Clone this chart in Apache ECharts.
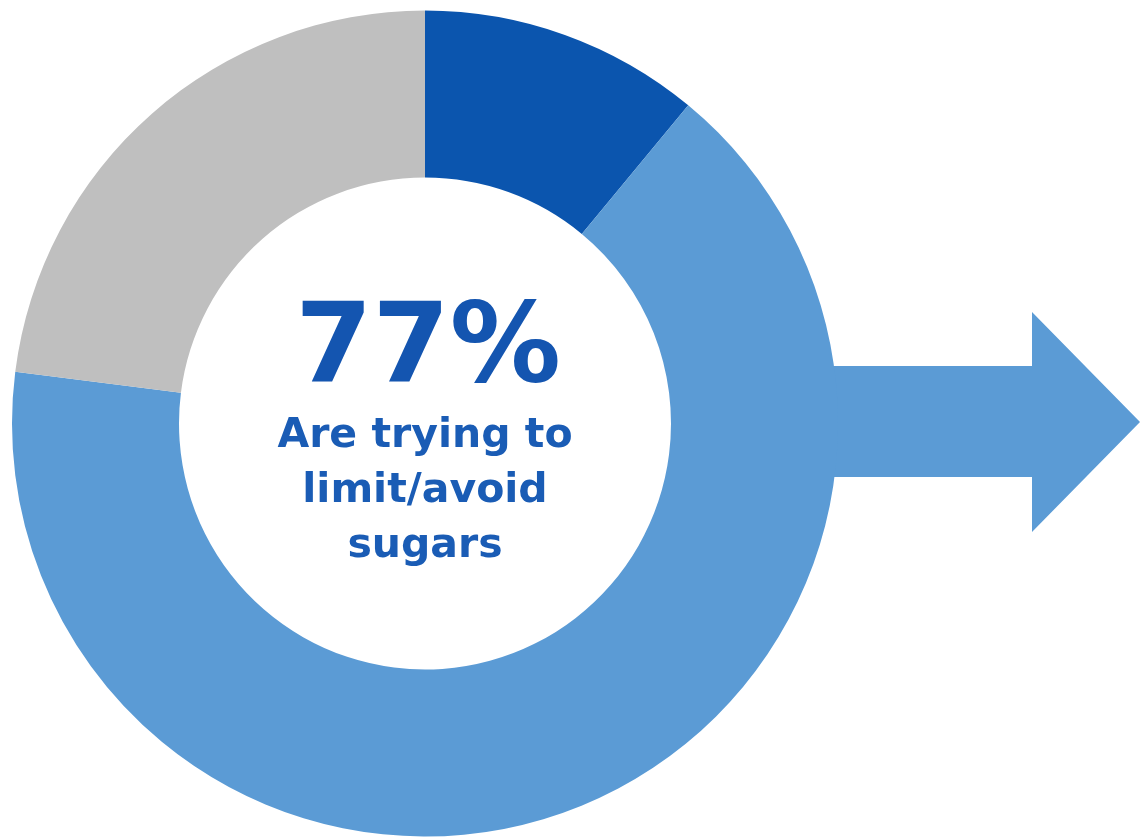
<!DOCTYPE html>
<html>
<head>
<meta charset="utf-8">
<title>Limiting sugars</title>
<script src="https://cdn.jsdelivr.net/npm/echarts@6/dist/echarts.min.js"></script>
<style>
  html, body { margin: 0; padding: 0; background: #ffffff; }
  #chart { width: 1141px; height: 840px; }
</style>
</head>
<body>
<div id="chart"></div>
<script>
// Share of respondents (%), clockwise from 12 o'clock
const categories = ['Avoiding sugars', 'Limiting sugars', 'Not limiting/avoiding'];
const shares = [11, 66, 23];
const colors = ['#0b55ae', '#5b9bd5', '#bfbfbf'];

const headline = '77%';
const captionLines = ['Are trying to', 'limit/avoid', 'sugars'];

const chart = echarts.init(document.getElementById('chart'), null, { renderer: 'canvas' });

const cx = 425, cy = 423.5;

chart.setOption({
  animation: false,
  series: [{
    type: 'pie',
    center: [cx, cy],
    radius: [246, 413],
    startAngle: 90,
    clockwise: true,
    silent: true,
    label: { show: false },
    labelLine: { show: false },
    itemStyle: { borderWidth: 0 },
    emphasis: { disabled: true },
    data: categories.map((name, i) => ({
      name,
      value: shares[i],
      itemStyle: { color: colors[i] }
    })),
    z: 2
  }],
  graphic: [
    {
      // arrow leaving the ring to the right
      type: 'polygon',
      z: 1,
      shape: {
        points: [
          [790, 366], [1032, 366], [1032, 312], [1140, 422],
          [1032, 532], [1032, 477], [790, 477]
        ]
      },
      style: { fill: '#5b9bd5' }
    },
    {
      type: 'text',
      z: 10,
      style: {
        text: headline,
        x: cx + 3, y: 408,
        textAlign: 'center',
        textVerticalAlign: 'bottom',
        fill: '#1455b0',
        font: 'bold 111px "DejaVu Sans", sans-serif'
      }
    },
    ...captionLines.map((line, i) => ({
      type: 'text',
      z: 10,
      style: {
        text: line,
        x: cx, y: 416 + i * 55,
        textAlign: 'center',
        textVerticalAlign: 'top',
        fill: '#1a5cb5',
        font: 'bold 41px "DejaVu Sans", sans-serif'
      }
    }))
  ]
});
</script>
</body>
</html>
